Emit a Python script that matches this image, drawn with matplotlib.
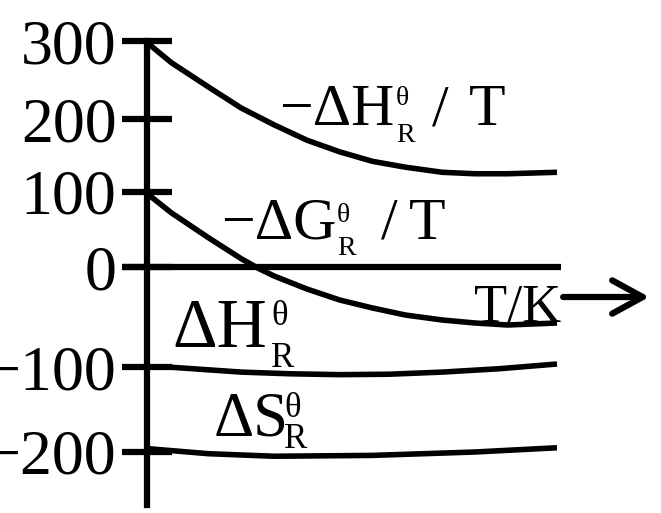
import numpy as np
import matplotlib
matplotlib.use('Agg')
import matplotlib.pyplot as plt

# Curvas (T en unidades arbitrarias, 0..10)
T_h_t = [0, 0.6, 1.5, 2.3, 3.1, 3.9, 4.7, 5.5, 6.3, 7.2, 8.0, 8.8, 10.0]
neg_dH_T = [298, 272, 241, 214, 192, 171, 155, 142, 134, 127, 125, 125, 127]

T_g_t = [0, 0.6, 1.5, 2.3, 2.7, 3.1, 3.9, 4.7, 5.5, 6.3, 7.2, 8.0, 8.8, 10.0]
neg_dG_T = [98, 72, 39, 11, -1, -9, -22, -33, -41, -48, -53, -56, -58, -56]

T_h = [0, 0.5, 2.3, 3.5, 4.7, 5.9, 7.2, 8.6, 10.0]
dH = [-100, -100, -106, -108, -109, -108.5, -106, -102, -97]

T_s = [0, 0.5, 1.5, 3.1, 5.5, 8.0, 10.0]
dS = [-196, -198, -202, -205, -204, -200, -195]

yticks = [300, 200, 100, 0, -100, -200]
ytick_labels = ['300', '200', '100', '0', '\u2212100', '\u2212200']

# escala no uniforme del eje y (como en el dibujo original)
tv = np.array([-400, -200, -100, 0, 100, 200, 300, 500])
tp = np.array([-622, -452, -367, -267, -192, -119, -41, 115])

def fwd(v):
    return np.interp(v, tv, tp)

def inv(p):
    return np.interp(p, tp, tv)

W, H = 661, 513
fig = plt.figure(figsize=(W / 100, H / 100), dpi=100)
ax = fig.add_axes([0, 0, 1, 1])
ax.set_yscale('function', functions=(fwd, inv))
ax.set_xlim(-147 / 41, (W - 147) / 41)
ax.set_ylim(inv(-H), inv(0))

lw_c = 4.0
for x, y in [(T_h_t, neg_dH_T), (T_g_t, neg_dG_T), (T_h, dH), (T_s, dS)]:
    ax.plot(x, y, color='black', lw=lw_c, solid_capstyle='butt', solid_joinstyle='round')

# eje T
ax.plot([-0.61, 10.1], [0, 0], color='black', lw=4.5, solid_capstyle='butt')
ax.annotate('', xy=(12.25, -30), xytext=(10.15, -30),
            arrowprops=dict(arrowstyle='->,head_length=1.1,head_width=0.6',
                            lw=4.5, color='black', shrinkA=0, shrinkB=0,
                            mutation_scale=20))

for s in ['top', 'right', 'bottom']:
    ax.spines[s].set_visible(False)
ax.spines['left'].set_position(('data', 0))
ax.spines['left'].set_linewidth(4.5)
ax.spines['left'].set_bounds(inv(-505), 300)
ax.set_xticks([])
ax.set_yticks(yticks)
ax.set_yticklabels(ytick_labels, fontsize=46, family='Liberation Serif')
ax.tick_params(axis='y', direction='inout', length=36, width=4.5, pad=4)

def txt(x, y, s, size):
    fig.text(x / W, 1 - y / H, s, fontsize=size, family='Liberation Serif',
             ha='left', va='baseline')

# -ΔH/T
txt(279, 125, '\u2212\u0394H', 43)
txt(396, 105, '\u03b8', 20)
txt(396, 142, 'R', 20)
txt(432, 125, '/', 43)
txt(469, 125, 'T', 43)
# -ΔG/T
txt(221, 239, '\u2212\u0394G', 43)
txt(337, 222, '\u03b8', 20)
txt(337, 255, 'R', 20)
txt(381, 239, '/', 43)
txt(409, 239, 'T', 43)
# ΔH
txt(172, 347, '\u0394H', 50)
txt(271, 325, '\u03b8', 25)
txt(271, 367, 'R', 25)
# ΔS
txt(214, 435, '\u0394S', 45)
txt(284, 417, '\u03b8', 25)
txt(284, 448, 'R', 25)
# T/K
txt(474, 322, 'T/K', 39)

fig.savefig('out.png', dpi=100)
